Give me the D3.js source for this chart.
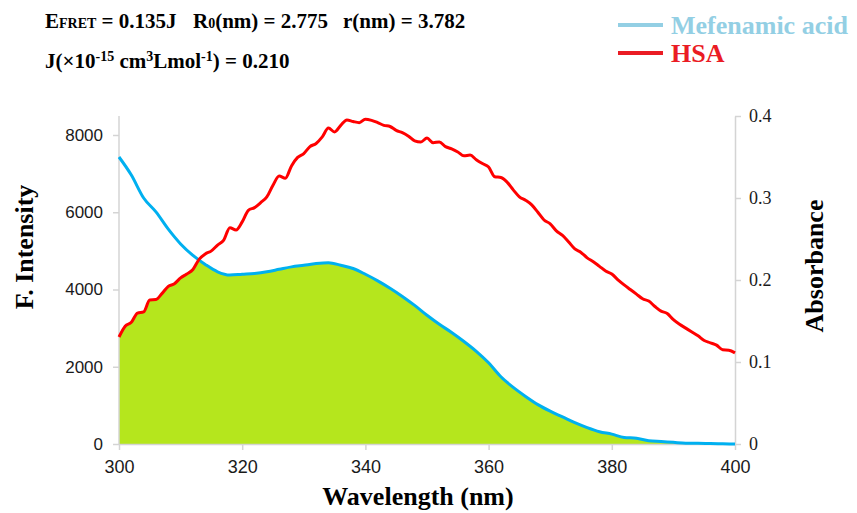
<!DOCTYPE html>
<html>
<head>
<meta charset="utf-8">
<script src="https://cdn.jsdelivr.net/npm/d3@7/dist/d3.min.js"></script>
<style>
  html, body { margin: 0; padding: 0; background: #fff; }
  svg { display: block; }
</style>
</head>
<body>
<svg id="chart" width="857" height="513"></svg>
<script>
// ---------- data ----------
// HSA fluorescence emission (F. Intensity), 300..400 nm step 1
const hsaWavelengths = d3.range(300, 401, 1);
const hsaIntensity = [
  2770, 3050, 3150, 3390, 3420, 3730, 3740, 3900, 4080, 4150,
  4300, 4400, 4520, 4780, 4920, 5000, 5150, 5280, 5600, 5540,
  5750, 6050, 6120, 6250, 6400, 6700, 6940, 6880, 7200, 7420,
  7520, 7700, 7780, 7950, 8180, 8080, 8250, 8390, 8350, 8320,
  8410, 8380, 8320, 8250, 8220, 8120, 8060, 7970, 7850, 7820,
  7920, 7800, 7820, 7700, 7640, 7560, 7460, 7480, 7360, 7260,
  7170, 6920, 6900, 6780, 6580, 6400, 6310, 6190, 6000, 5800,
  5700, 5520, 5400, 5230, 5050, 4960, 4820, 4720, 4600, 4480,
  4400, 4250, 4120, 4000, 3880, 3760, 3700, 3560, 3440, 3380,
  3220, 3100, 3000, 2900, 2800, 2680, 2620, 2560, 2440, 2430,
  2360
];
// Mefenamic acid absorbance, 300..400 nm step 2
const mefWavelengths = d3.range(300, 401, 2);
const mefAbsorbance = [
  0.350, 0.328, 0.300, 0.283, 0.262, 0.244, 0.230, 0.219, 0.210, 0.206,
  0.207, 0.208, 0.210, 0.213, 0.216, 0.218, 0.220, 0.221, 0.218, 0.214,
  0.207, 0.199, 0.190, 0.180, 0.169, 0.157, 0.146, 0.136, 0.125, 0.113,
  0.099, 0.082, 0.069, 0.058, 0.048, 0.040, 0.033, 0.026, 0.020, 0.015,
  0.012, 0.008, 0.007, 0.004, 0.003, 0.002, 0.001, 0.001, 0.0005, 0.0002,
  0
];
const xTicks = [300, 320, 340, 360, 380, 400];
const yLeftTicks = [0, 2000, 4000, 6000, 8000];
const yRightTicks = [0, 0.1, 0.2, 0.3, 0.4];
const seriesNames = ["Mefenamic acid", "HSA"];

const hsaData = hsaWavelengths.map((w, i) => ({ w, v: hsaIntensity[i] }));
const mefData = mefWavelengths.map((w, i) => ({ w, v: mefAbsorbance[i] }));

// ---------- layout ----------
const svg = d3.select("#chart");
const plotLeft = 119, plotRight = 735, plotTop = 116, plotBottom = 444;

const x = d3.scaleLinear().domain([300, 400]).range([plotLeft, plotRight]);
const yL = d3.scaleLinear().domain([0, 8000]).range([plotBottom, 135]);
const yR = d3.scaleLinear().domain([0, 0.4]).range([plotBottom, plotTop]);

const axisColor = "#d4d4d4";
const tickTextColor = "#1a1a1a";

// ---------- overlap fill (area under both curves) ----------
const defs = svg.append("defs");
const mefArea = d3.area().x(d => x(d.w)).y0(plotBottom).y1(d => yR(d.v)).curve(d3.curveMonotoneX);
const hsaArea = d3.area().x(d => x(d.w)).y0(plotBottom).y1(d => yL(d.v)).curve(d3.curveMonotoneX);
defs.append("clipPath").attr("id", "mefClip")
  .append("path").attr("d", mefArea(mefData));
svg.append("path")
  .attr("d", hsaArea(hsaData))
  .attr("fill", "#b5e61d")
  .attr("clip-path", "url(#mefClip)");

// ---------- axes ----------
const gx = svg.append("g").attr("transform", `translate(0,${plotBottom})`)
  .call(d3.axisBottom(x).tickValues(xTicks).tickSize(6).tickSizeOuter(0).tickPadding(10).tickFormat(d3.format("d")));
const gl = svg.append("g").attr("transform", `translate(${plotLeft},0)`)
  .call(d3.axisLeft(yL).tickValues(yLeftTicks).tickSize(6).tickSizeOuter(0).tickPadding(10).tickFormat(d3.format("d")));
const gr = svg.append("g").attr("transform", `translate(${plotRight},0)`)
  .call(d3.axisRight(yR).tickValues(yRightTicks).tickSize(6).tickSizeOuter(0).tickPadding(8)
    .tickFormat(d => d === 0 ? "0" : d.toFixed(1)));

// extend left axis line to top of plot
gl.select(".domain").attr("d", `M0,${plotBottom}V${plotTop}`);

[gx, gl, gr].forEach(g => {
  g.select(".domain").attr("stroke", axisColor).attr("stroke-width", 1.5);
  g.selectAll(".tick line").attr("stroke", axisColor).attr("stroke-width", 1.5);
});
gx.selectAll(".tick text").attr("font-family", "Liberation Sans, Arial, sans-serif")
  .attr("font-size", 18).attr("fill", tickTextColor);
gl.selectAll(".tick text").attr("font-family", "Liberation Sans, Arial, sans-serif")
  .attr("font-size", 17).attr("fill", tickTextColor);
gr.selectAll(".tick text").attr("font-family", "Liberation Serif, Times New Roman, serif")
  .attr("font-size", 18).attr("fill", tickTextColor);

// ---------- lines ----------
const mefLine = d3.line().x(d => x(d.w)).y(d => yR(d.v)).curve(d3.curveMonotoneX);
const hsaLine = d3.line().x(d => x(d.w)).y(d => yL(d.v)).curve(d3.curveMonotoneX);
svg.append("path").attr("d", mefLine(mefData))
  .attr("fill", "none").attr("stroke", "#00b0f0").attr("stroke-width", 3).attr("stroke-linejoin", "round");
svg.append("path").attr("d", hsaLine(hsaData))
  .attr("fill", "none").attr("stroke", "#ff0000").attr("stroke-width", 3).attr("stroke-linejoin", "round");

// ---------- axis titles ----------
const serif = "Liberation Serif, Times New Roman, serif";
svg.append("text").attr("transform", "translate(33,247) rotate(-90)")
  .attr("text-anchor", "middle").attr("font-family", serif).attr("font-weight", "bold")
  .attr("font-size", 26).attr("fill", "#000").text("F. Intensity");
svg.append("text").attr("transform", "translate(823,266) rotate(-90)")
  .attr("text-anchor", "middle").attr("font-family", serif).attr("font-weight", "bold")
  .attr("font-size", 26).attr("fill", "#000").text("Absorbance");
svg.append("text").attr("x", 418).attr("y", 505)
  .attr("text-anchor", "middle").attr("font-family", serif).attr("font-weight", "bold")
  .attr("font-size", 26).attr("fill", "#000").text("Wavelength (nm)");

// ---------- header annotation ----------
function header(xPos, yPos, parts) {
  const t = svg.append("text").attr("x", xPos).attr("y", yPos)
    .attr("font-family", serif).attr("font-weight", "bold").attr("font-size", 21).attr("fill", "#000");
  parts.forEach(p => {
    const ts = t.append("tspan").text(p.t);
    if (p.size) ts.attr("font-size", p.size);
    if (p.dy) ts.attr("dy", p.dy);
  });
  return t;
}
header(45, 28, [{ t: "E" }, { t: "FRET", size: 14 }, { t: " = 0.135J" }]);
header(193, 28, [{ t: "R" }, { t: "0", size: 14 }, { t: "(nm) = 2.775" }]);
header(343, 28, [{ t: "r(nm) = 3.782" }]);
header(45, 68, [
  { t: "J(×10" }, { t: "-15", size: 14, dy: -7 }, { t: " cm", dy: 7 },
  { t: "3", size: 14, dy: -7 }, { t: "Lmol", dy: 7 }, { t: "-1", size: 14, dy: -7 },
  { t: ") = 0.210", dy: 7 }
]);

// ---------- legend ----------
const legendColors = ["#93cfe4", "#ea1c24"];
seriesNames.forEach((name, i) => {
  const ly = 25 + i * 28;
  svg.append("line").attr("x1", 618).attr("x2", 663).attr("y1", ly).attr("y2", ly)
    .attr("stroke", legendColors[i]).attr("stroke-width", 4);
  svg.append("text").attr("x", 671).attr("y", ly + 9)
    .attr("font-family", serif).attr("font-weight", "bold").attr("font-size", 26)
    .attr("fill", legendColors[i]).text(name);
});
</script>
</body>
</html>
